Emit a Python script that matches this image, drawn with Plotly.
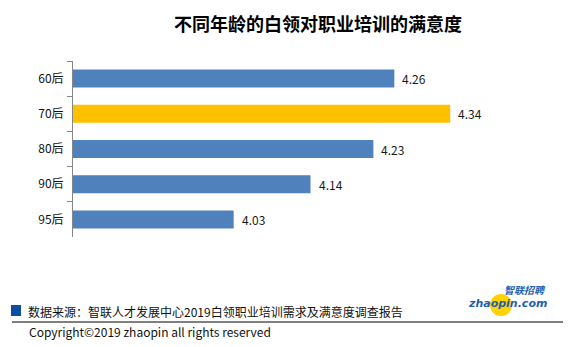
import plotly.graph_objects as go

categories = ["60后", "70后", "80后", "90后", "95后"]
values = [4.26, 4.34, 4.23, 4.14, 4.03]
colors = ["#4f81bd", "#ffc000", "#4f81bd", "#4f81bd", "#4f81bd"]
value_labels = ["4.26", "4.34", "4.23", "4.14", "4.03"]

title_text = "不同年龄的白领对职业培训的满意度"
source_text = "数据来源：智联人才发展中心2019白领职业培训需求及满意度调查报告"
copyright_text = "Copyright©2019 zhaopin all rights reserved"

W, H = 570, 347
ML, MR, MT, MB = 73, 8, 61, 110
PW, PH = W - ML - MR, H - MT - MB
FONT = "Noto Sans CJK SC, Noto Sans, sans-serif"


def px(x):
    return (x - ML) / PW


def py(y):
    return (H - MB - y) / PH


fig = go.Figure()
fig.add_trace(go.Bar(
    x=values, y=categories, orientation="h",
    marker=dict(color=colors, line=dict(width=0)),
    width=0.51, hoverinfo="skip",
))

annotations = []
for c, v, t in zip(categories, values, value_labels):
    annotations.append(dict(x=v, y=c, xref="x", yref="y", text=t, showarrow=False,
                            xanchor="left", xshift=6,
                            font=dict(family=FONT, size=12, color="#1a1a1a")))

annotations += [
    dict(x=0.5, y=py(23), xref="paper", yref="paper", text="<b>" + title_text + "</b>",
         showarrow=False, xanchor="center", yanchor="middle",
         font=dict(family=FONT, size=18, color="#000000")),
    dict(x=px(26), y=py(311), xref="paper", yref="paper", text=source_text,
         showarrow=False, xanchor="left", yanchor="middle",
         font=dict(family=FONT, size=12, color="#111111")),
    dict(x=px(27), y=py(331), xref="paper", yref="paper", text=copyright_text,
         showarrow=False, xanchor="left", yanchor="middle",
         font=dict(family=FONT, size=12, color="#111111")),
    dict(x=px(525), y=py(289), xref="paper", yref="paper", text="<b><i>智联招聘</i></b>",
         showarrow=False, xanchor="center", yanchor="middle", borderpad=0,
         font=dict(family=FONT, size=10, color="#1f5fb0")),
    dict(x=px(507), y=py(303), xref="paper", yref="paper", text="<b><i>zhaopin.com</i></b>",
         showarrow=False, xanchor="center", yanchor="middle", borderpad=0,
         font=dict(family="DejaVu Sans, sans-serif", size=11, color="#1f5fb0")),
]

shapes = [
    dict(type="rect", xref="paper", yref="paper", x0=px(11), x1=px(21), y0=py(305), y1=py(316),
         fillcolor="#0a4ea2", line=dict(width=0)),
    dict(type="line", xref="paper", yref="paper", x0=px(12), x1=px(563), y0=py(322), y1=py(322),
         line=dict(color="#000000", width=1.2)),
    dict(type="circle", xref="paper", yref="paper", x0=px(490), x1=px(512), y0=py(294), y1=py(316),
         fillcolor="#ffd200", line=dict(width=0), layer="below"),
]

fig.update_layout(
    width=W, height=H,
    margin=dict(l=ML, r=MR, t=MT, b=MB),
    paper_bgcolor="white", plot_bgcolor="white",
    showlegend=False,
    bargap=0.49,
    annotations=annotations,
    shapes=shapes,
    font=dict(family=FONT, size=12, color="#111111"),
    xaxis=dict(range=[3.8, 4.5], visible=False, fixedrange=True),
    yaxis=dict(autorange="reversed", showline=True, linecolor="#868686", linewidth=1,
               ticks="outside", ticklen=5, tickcolor="#868686", tickson="boundaries",
               ticklabelstandoff=6,
               showgrid=False, tickfont=dict(family=FONT, size=12, color="#111111"),
               fixedrange=True),
)

fig.write_html("out.html")
